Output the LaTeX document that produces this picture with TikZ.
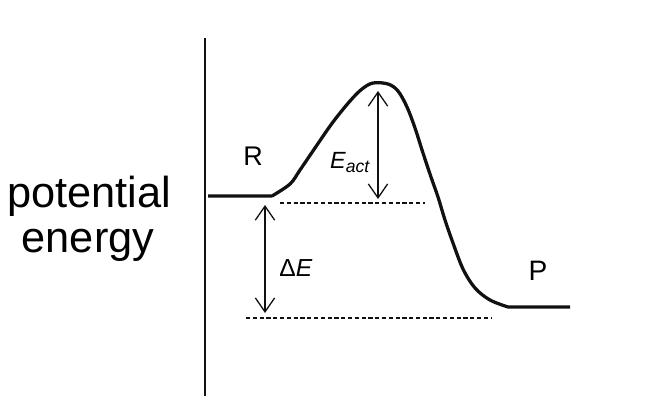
\documentclass[tikz,border=0pt]{standalone}
\usepackage{fontspec}
\setmainfont{Liberation Sans}
\usepackage{tikz}
\usetikzlibrary{arrows.meta}
\definecolor{enoir}{HTML}{111111}
\tikzset{
  niveau/.style={enoir,line width=2.8pt},
  fleche/.style={enoir,line width=1.1pt,{Straight Barb[length=4.2mm,width=5.8mm]}-{Straight Barb[length=4.2mm,width=5.8mm]}},
  pointille/.style={enoir,line width=1pt,dash pattern=on 3.6pt off 2.2pt},
}

\begin{document}
\begin{tikzpicture}[x=0.03cm,y=-0.03cm]
  \useasboundingbox (0,0) rectangle (650,408);
  % axe vertical
  \draw[enoir,line width=1.6pt] (205,38) -- (205,396);
  % label de l'axe
  \node[font=\fontsize{37}{37}\selectfont,anchor=base] (pot) at (89,207) {potential};
  \node[font=\fontsize{37}{37}\selectfont,anchor=base] (ener) at (88,252) {energy};
  % courbe R -> etat de transition -> P
  \draw[niveau,line join=round] (208,196) -- (272,196)
    plot[smooth,tension=0.55] coordinates {(272,196) (290,184) (300,170) (317,145) (333,122) (350,101) (362,89) (373,83) (388,84) (398,91) (407,107) (415,128) (423,153) (431,177) (438,197) (445,220) (453,243) (463,269) (475,288) (490,300) (508,307)}
    -- (570,307);
  % niveaux de reference
  \coordinate (h1) at (280,203); \coordinate (h2) at (425,203);
  \coordinate (b1) at (246,318); \coordinate (b2) at (492,318);
  \draw[pointille] (h1) -- (h2);
  \draw[pointille] (b1) -- (b2);
  % fleches
  \coordinate (acthaut) at (378,91); \coordinate (actbas) at (378,199);
  \coordinate (dehaut) at (265,205); \coordinate (debas) at (265,313);
  \draw[fleche] (acthaut) -- (actbas);
  \draw[fleche] (dehaut) -- (debas);
  % etiquettes
  \node[font=\fontsize{23}{23}\selectfont] (R) at (253,156) {R};
  \node[font=\fontsize{24}{24}\selectfont] (P) at (538,271) {P};
  \node[font=\fontsize{21}{21}\selectfont,anchor=base] (dE) at (296,276) {Δ\textit{E}};
  \node[anchor=base,inner sep=0pt] (Eact) at (350,168) {\fontsize{20}{20}\selectfont\textit{E}\raisebox{-0.35ex}{\fontsize{15}{15}\selectfont\textit{act}}};
\end{tikzpicture}
\end{document}
